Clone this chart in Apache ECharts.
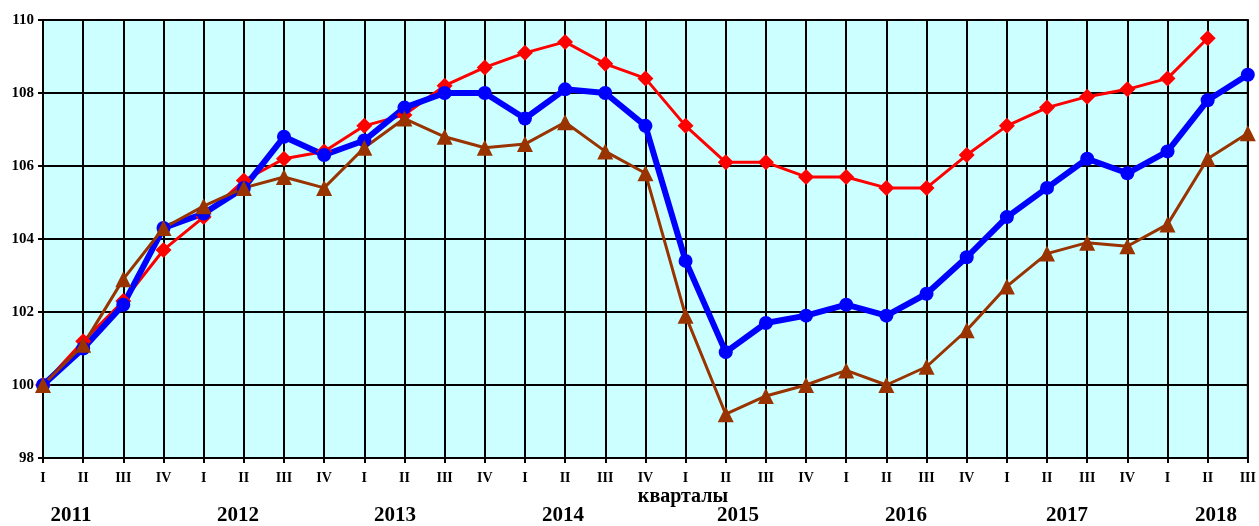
<!DOCTYPE html>
<html>
<head>
<meta charset="utf-8">
<script src="https://cdn.jsdelivr.net/npm/echarts@6/dist/echarts.min.js"></script>
<style>
  html, body { margin: 0; padding: 0; background: #fff; }
  #root { width: 1259px; height: 526px; }
</style>
</head>
<body>
<div id="root"></div>
<script>
  // quarters 2011 I .. 2018 III
  const quarters = ['I', 'II', 'III', 'IV', 'I', 'II', 'III', 'IV', 'I', 'II', 'III', 'IV',
    'I', 'II', 'III', 'IV', 'I', 'II', 'III', 'IV', 'I', 'II', 'III', 'IV',
    'I', 'II', 'III', 'IV', 'I', 'II', 'III']

  const redValues = [100, 101.2, 102.3, 103.7, 104.6, 105.6, 106.2, 106.4, 107.1, 107.4, 108.2, 108.7,
    109.1, 109.4, 108.8, 108.4, 107.1, 106.1, 106.1, 105.7, 105.7, 105.4, 105.4, 106.3,
    107.1, 107.6, 107.9, 108.1, 108.4, 109.5, null]

  const blueValues = [100, 101.0, 102.2, 104.3, 104.7, 105.4, 106.8, 106.3, 106.7, 107.6, 108.0, 108.0,
    107.3, 108.1, 108.0, 107.1, 103.4, 100.9, 101.7, 101.9, 102.2, 101.9, 102.5, 103.5,
    104.6, 105.4, 106.2, 105.8, 106.4, 107.8, 108.5]

  const brownValues = [100, 101.1, 102.9, 104.3, 104.9, 105.4, 105.7, 105.4, 106.5, 107.3, 106.8, 106.5,
    106.6, 107.2, 106.4, 105.8, 101.9, 99.2, 99.7, 100.0, 100.4, 100.0, 100.5, 101.5,
    102.7, 103.6, 103.9, 103.8, 104.4, 106.2, 106.9]

  const years = ['2011', '2012', '2013', '2014', '2015', '2016', '2017', '2018']
  const yearX = [71, 238, 395, 563, 738, 906, 1067, 1216]

  const font = 'Liberation Serif'
  const chart = echarts.init(document.getElementById('root'))

  const yearText = years.map((y, i) => ({
    type: 'text',
    x: yearX[i],
    y: 516,
    style: { text: y, font: 'bold 21px "Liberation Serif"', fill: '#000', align: 'center', verticalAlign: 'middle' }
  }))

  const option = {
    animation: false,
    grid: { left: 43, right: 9, top: 20, bottom: 68, show: true, backgroundColor: '#CCFFFF', borderColor: '#000', borderWidth: 2 },
    xAxis: {
      type: 'category',
      data: quarters,
      boundaryGap: false,
      axisLine: { lineStyle: { color: '#000', width: 2 } },
      axisTick: { show: true, length: 5, lineStyle: { color: '#000', width: 2 } },
      axisLabel: { interval: 0, margin: 13, color: '#000', fontFamily: font, fontWeight: 'bold', fontSize: 14 },
      splitLine: { show: true, interval: 0, lineStyle: { color: '#000', width: 2 } }
    },
    yAxis: {
      type: 'value',
      min: 98,
      max: 110,
      interval: 2,
      axisLine: { show: true, lineStyle: { color: '#000', width: 2 } },
      axisTick: { show: true, length: 5, lineStyle: { color: '#000', width: 2 } },
      axisLabel: { margin: 9, color: '#000', fontFamily: font, fontWeight: 'bold', fontSize: 15 },
      splitLine: { show: true, lineStyle: { color: '#000', width: 2 } }
    },
    graphic: [
      {
        type: 'text',
        x: 683,
        y: 497,
        style: { text: 'кварталы', font: 'bold 20px "Liberation Serif"', fill: '#000', align: 'center', verticalAlign: 'middle' }
      }
    ].concat(yearText),
    series: [
      {
        type: 'line',
        data: redValues,
        symbol: 'diamond',
        symbolSize: 16,
        lineStyle: { color: '#FF0000', width: 3 },
        itemStyle: { color: '#FF0000' }
      },
      {
        type: 'line',
        data: blueValues,
        symbol: 'circle',
        symbolSize: 14,
        lineStyle: { color: '#0000FF', width: 6 },
        itemStyle: { color: '#0000FF' }
      },
      {
        type: 'line',
        data: brownValues,
        symbol: 'triangle',
        symbolSize: 16,
        lineStyle: { color: '#993300', width: 3 },
        itemStyle: { color: '#993300' }
      }
    ]
  }
  chart.setOption(option)
</script>
</body>
</html>
